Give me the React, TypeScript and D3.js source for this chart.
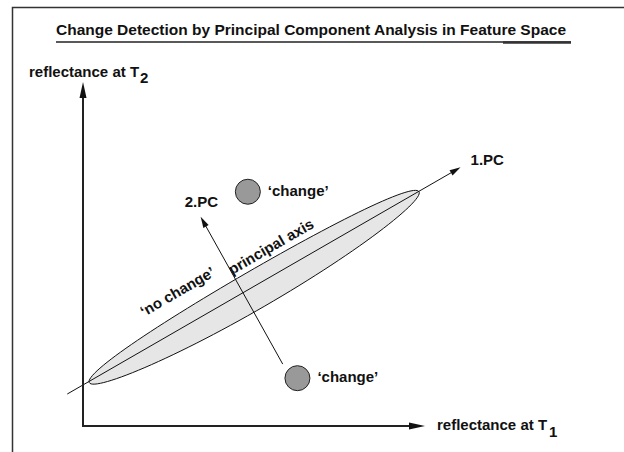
import { useEffect, useRef } from 'react';
import * as d3 from 'd3';

// feature space, both axes in reflectance units 0..100
const X_DOMAIN = [0, 100];
const Y_DOMAIN = [0, 100];

// first principal component (line through the cluster)
const PC1_START = [-4.6, 9.3];
const PC1_END = [110.4, 75.2];

// second principal component (perpendicular)
const PC2_START = [58.4, 18.0];
const PC2_END = [34.4, 60.8];

// 'no change' cluster: tips of the ellipse, half width and sag below the axis
const CLUSTER_TIPS = [[1.84, 12.59], [98.25, 68.11]];
const CLUSTER_HALF_WIDTH = 5.5;
const CLUSTER_SAG = 0.8;

// 'change' pixels
const CHANGE_POINTS = [
  { x: 48.2, y: 68.1, label: '‘change’' },
  { x: 62.7, y: 13.9, label: '‘change’' },
];

const TITLE = 'Change Detection by Principal Component Analysis in Feature Space';

const W = 624;
const H = 452;
const FONT = '"Liberation Sans", Arial, Helvetica, sans-serif';

export default function App() {
  const svgRef = useRef<SVGSVGElement>(null);

  useEffect(() => {
    if (!svgRef.current) return;
    const svg = d3.select(svgRef.current);
    svg.selectAll('*').remove();

    const x = d3.scaleLinear().domain(X_DOMAIN).range([83, 425]);
    const y = d3.scaleLinear().domain(Y_DOMAIN).range([426, 82]);

    const arrowHead = (x0: number, y0: number, x1: number, y1: number, len: number, half: number) => {
      const a = Math.atan2(y1 - y0, x1 - x0);
      const bx = x1 - len * Math.cos(a);
      const by = y1 - len * Math.sin(a);
      const px = -Math.sin(a) * half;
      const py = Math.cos(a) * half;
      return `M${x1},${y1}L${bx + px},${by + py}L${bx - px},${by - py}Z`;
    };

    // frame
    svg.append('path')
      .attr('d', `M12.5,${H}V7.5H${W}`)
      .attr('fill', 'none')
      .attr('stroke', '#333')
      .attr('stroke-width', 1.5);

    // title
    svg.append('text')
      .attr('x', 56)
      .attr('y', 35)
      .attr('font-family', FONT)
      .attr('font-weight', 'bold')
      .attr('font-size', 15.5)
      .attr('fill', '#111')
      .attr('textLength', 510)
      .text(TITLE);
    svg.append('line')
      .attr('x1', 56).attr('x2', 571)
      .attr('y1', 42).attr('y2', 42)
      .attr('stroke', '#222')
      .attr('stroke-width', 1.5);
    svg.append('line')
      .attr('x1', 503).attr('x2', 571)
      .attr('y1', 42.5).attr('y2', 42.5)
      .attr('stroke', '#333')
      .attr('stroke-width', 2.5);

    // cluster ellipse
    const [t0, t1] = CLUSTER_TIPS;
    const cx = (t0[0] + t1[0]) / 2;
    const cy = (t0[1] + t1[1]) / 2;
    const dx = (t1[0] - t0[0]) / 2;
    const dy = (t1[1] - t0[1]) / 2;
    const len = Math.hypot(dx, dy);
    const ux = -dy / len;
    const uy = dx / len;
    const ellipse = d3.range(0, 361, 3).map(deg => {
      const t = (deg * Math.PI) / 180;
      const s = Math.sin(t);
      const off = CLUSTER_HALF_WIDTH * s - CLUSTER_SAG * s * s;
      return [cx + dx * Math.cos(t) + ux * off, cy + dy * Math.cos(t) + uy * off];
    });
    svg.append('path')
      .datum(ellipse)
      .attr('d', d3.line<number[]>().x(d => x(d[0])).y(d => y(d[1])).curve(d3.curveLinearClosed))
      .attr('fill', '#e6e6e6')
      .attr('stroke', '#111')
      .attr('stroke-width', 1);

    // principal components
    const pcs = [
      { s: PC1_START, e: PC1_END },
      { s: PC2_START, e: PC2_END },
    ];
    pcs.forEach(({ s, e }) => {
      const x0 = x(s[0]), y0 = y(s[1]), x1 = x(e[0]), y1 = y(e[1]);
      const a = Math.atan2(y1 - y0, x1 - x0);
      svg.append('line')
        .attr('x1', x0).attr('y1', y0)
        .attr('x2', x1 - 8 * Math.cos(a)).attr('y2', y1 - 8 * Math.sin(a))
        .attr('stroke', '#111')
        .attr('stroke-width', 1);
      svg.append('path')
        .attr('d', arrowHead(x0, y0, x1, y1, 11, 3))
        .attr('fill', '#111');
    });

    // axes
    svg.append('path')
      .attr('d', `M${x(0)},${y(100) + 12}V${y(0)}H${x(100) - 12}`)
      .attr('fill', 'none')
      .attr('stroke', '#222')
      .attr('stroke-width', 2);
    svg.append('path')
      .attr('d', arrowHead(x(0), y(0), x(0), y(100), 16, 3.5))
      .attr('fill', '#111');
    svg.append('path')
      .attr('d', arrowHead(x(0), y(0), x(100), y(0), 16, 3.5))
      .attr('fill', '#111');

    const label = (tx: number, ty: number) =>
      svg.append('text')
        .attr('x', tx)
        .attr('y', ty)
        .attr('font-family', FONT)
        .attr('font-weight', 'bold')
        .attr('font-size', 15)
        .attr('fill', '#111');

    // axis labels
    const yl = label(29, 77);
    yl.append('tspan').text('reflectance at T');
    yl.append('tspan').attr('dx', 1).attr('dy', 6).text('2');
    const xl = label(437, 430);
    xl.append('tspan').text('reflectance at T');
    xl.append('tspan').attr('dx', 2).attr('dy', 7).text('1');

    // component labels
    label(x(PC1_END[0]) + 10, y(PC1_END[1]) - 2).text('1.PC');
    label(x(PC2_END[0]) - 16, y(PC2_END[1]) - 10).text('2.PC');

    // change points
    CHANGE_POINTS.forEach(p => {
      svg.append('circle')
        .attr('cx', x(p.x))
        .attr('cy', y(p.y))
        .attr('r', 12.5)
        .attr('fill', '#999')
        .attr('stroke', '#222')
        .attr('stroke-width', 1);
      label(x(p.x) + 20, y(p.y) + 4).text(p.label);
    });

    // rotated cluster annotations
    const ang = -Math.atan2(y(t0[1]) - y(t1[1]), x(t1[0]) - x(t0[0])) * 180 / Math.PI;
    const rot = (tx: number, ty: number, s: string) =>
      svg.append('text')
        .attr('transform', `translate(${tx},${ty}) rotate(${ang})`)
        .attr('font-family', FONT)
        .attr('font-weight', 'bold')
        .attr('font-size', 15)
        .attr('fill', '#111')
        .text(s);
    rot(144, 317, '‘no change’');
    rot(232, 275, 'principal axis');
  }, []);

  return (
    <svg
      ref={svgRef}
      width={W}
      height={H}
      style={{ position: 'absolute', left: 0, top: 0, background: '#fff' }}
    />
  );
}
